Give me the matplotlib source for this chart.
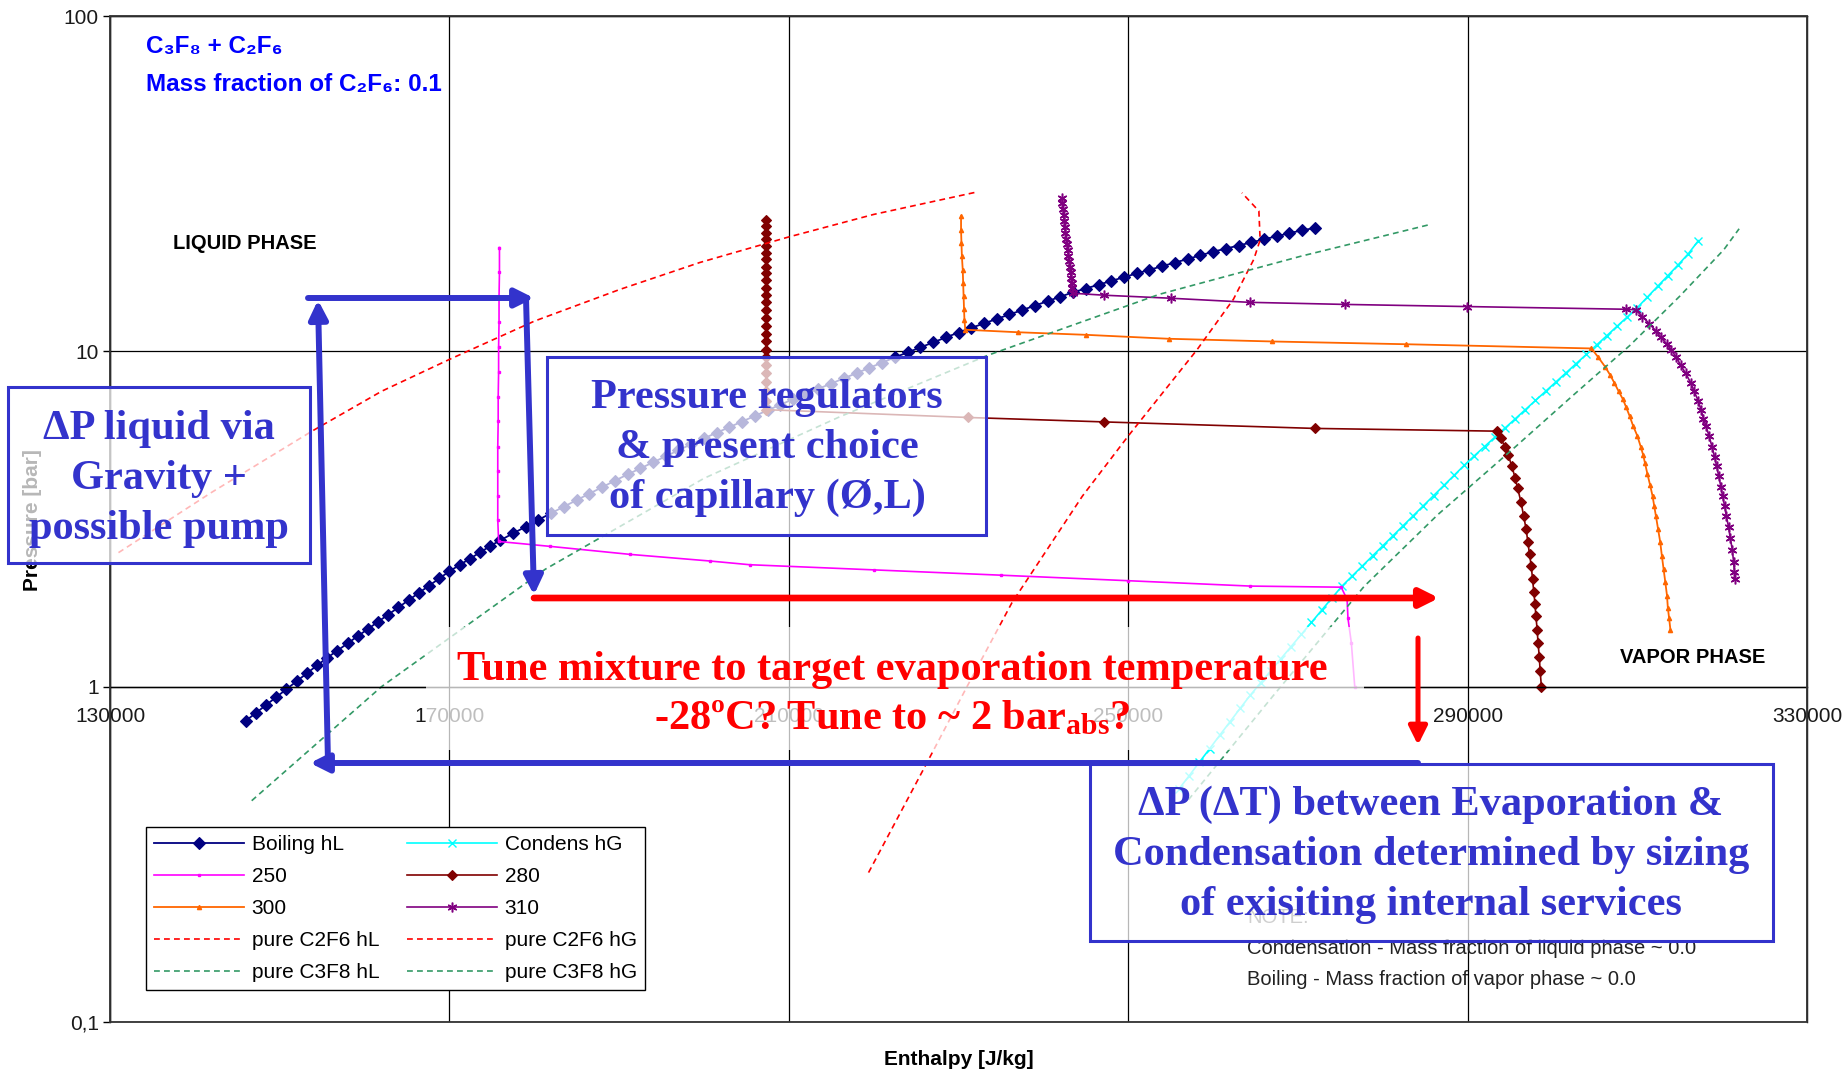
import numpy as np
import matplotlib
matplotlib.use('Agg')
import matplotlib.pyplot as plt
from matplotlib.patches import Rectangle, FancyArrowPatch
from matplotlib.ticker import NullLocator

plt.rcParams['font.family'] = ['Liberation Sans', 'DejaVu Sans']
plt.rcParams['mathtext.fontset'] = 'custom'
plt.rcParams['mathtext.rm'] = 'Liberation Serif:bold'
plt.rcParams['mathtext.it'] = 'Liberation Serif:italic:bold'
plt.rcParams['mathtext.bf'] = 'Liberation Serif:bold'

W, H = 1845, 1081

# enthalpy in kJ/kg, pressure in bar
boil_h = [146.0, 147.2, 148.4, 149.6, 150.8, 152.0, 153.2, 154.4, 155.6, 156.8,
          158.0, 159.2, 160.4, 161.6, 162.8, 164.0, 165.2, 166.4, 167.6, 168.8,
          170.0, 171.2, 172.4, 173.6, 174.8, 176.0, 177.5, 179.0, 180.5, 182.0,
          183.5, 185.0, 186.5, 188.0, 189.5, 191.0, 192.5, 194.0, 195.5, 197.0,
          198.5, 200.0, 201.5, 203.0, 204.5, 206.0, 207.5, 209.0, 210.5, 212.0,
          213.5, 215.0, 216.5, 218.0, 219.5, 221.0, 222.5, 224.0, 225.5, 227.0,
          228.5, 230.0, 231.5, 233.0, 234.5, 236.0, 237.5, 239.0, 240.5, 242.0,
          243.5, 245.0, 246.5, 248.0, 249.5, 251.0, 252.5, 254.0, 255.5, 257.0,
          258.5, 260.0, 261.5, 263.0, 264.5, 266.0, 267.5, 269.0, 270.5, 272.0]
boil_p = [0.791, 0.835, 0.882, 0.931, 0.983, 1.038, 1.096, 1.157, 1.220, 1.281,
          1.346, 1.415, 1.486, 1.562, 1.641, 1.724, 1.812, 1.904, 2.000, 2.102,
          2.208, 2.306, 2.407, 2.513, 2.625, 2.733, 2.864, 3.001, 3.145, 3.293,
          3.443, 3.600, 3.764, 3.934, 4.114, 4.294, 4.476, 4.666, 4.864, 5.070,
          5.284, 5.503, 5.718, 5.943, 6.176, 6.418, 6.671, 6.932, 7.198, 7.462,
          7.734, 8.017, 8.310, 8.614, 8.930, 9.256, 9.594, 9.927, 10.27, 10.63,
          11.00, 11.38, 11.75, 12.11, 12.49, 12.88, 13.27, 13.69, 14.11, 14.55,
          15.00, 15.39, 15.80, 16.21, 16.64, 17.07, 17.50, 17.94, 18.39, 18.85,
          19.33, 19.82, 20.24, 20.68, 21.12, 21.58, 22.04, 22.51, 22.96, 23.33]

cond_h = [256.0, 257.2, 258.4, 259.6, 260.8, 262.0, 263.2, 264.4, 265.6, 266.8,
          268.0, 269.2, 270.4, 271.6, 272.8, 274.0, 275.2, 276.4, 277.6, 278.8,
          280.0, 281.2, 282.4, 283.6, 284.8, 286.0, 287.2, 288.4, 289.6, 290.8,
          292.0, 293.2, 294.4, 295.6, 296.8, 298.0, 299.2, 300.4, 301.6, 302.8,
          304.0, 305.2, 306.4, 307.6, 308.8, 310.0, 311.2, 312.4, 313.6, 314.8,
          316.0, 317.2]
cond_p = [0.496, 0.543, 0.596, 0.653, 0.717, 0.786, 0.862, 0.944, 1.026, 1.115,
          1.212, 1.317, 1.431, 1.555, 1.690, 1.837, 1.995, 2.138, 2.291, 2.455,
          2.630, 2.818, 3.020, 3.236, 3.467, 3.715, 3.981, 4.266, 4.571, 4.882,
          5.201, 5.541, 5.903, 6.287, 6.699, 7.137, 7.603, 8.099, 8.629, 9.192,
          9.793, 10.44, 11.13, 11.87, 12.65, 13.50, 14.52, 15.63, 16.81, 18.09,
          19.53, 21.38]

t250_h = [175.9, 175.9, 175.85, 175.85, 175.8, 175.8, 175.75, 175.75, 175.7, 175.7,
          175.7, 175.7, 175.8, 181.9, 191.3, 200.7, 205.4, 220.0, 235.0, 250.0,
          264.4, 275.1, 275.8, 275.9, 276.3, 276.7]
t250_p = [20.4, 17.2, 14.5, 12.2, 10.3, 8.7, 7.3, 6.2, 5.2, 4.4,
          3.7, 3.15, 2.71, 2.62, 2.48, 2.37, 2.31, 2.23, 2.15, 2.07,
          1.995, 1.98, 1.82, 1.60, 1.35, 1.00]

t280_h = [207.35, 207.35, 207.35, 207.35, 207.3, 207.3, 207.3, 207.3, 207.3, 207.3,
          207.3, 207.3, 207.3, 207.3, 207.3, 207.3, 207.3, 207.3, 207.3, 207.3,
          207.3, 207.3, 207.3, 207.3, 207.3, 207.3,
          231.1, 247.1, 272.0,
          293.5, 293.9, 294.4, 294.8, 295.2, 295.6, 295.9, 296.3, 296.6, 296.9,
          297.1, 297.3, 297.5, 297.65, 297.8, 297.95, 298.05, 298.2, 298.3, 298.45,
          298.55, 298.7]
t280_p = [24.7, 23.6, 22.6, 21.6, 20.6, 19.7, 18.8, 17.9, 17.1, 16.3,
          15.5, 14.7, 14.0, 13.3, 12.6, 11.9, 11.3, 10.7, 10.1, 9.6,
          9.1, 8.6, 8.1, 7.6, 7.1, 6.7,
          6.35, 6.16, 5.89,
          5.78, 5.5, 5.2, 4.9, 4.55, 4.2, 3.9, 3.55, 3.23, 2.95,
          2.7, 2.48, 2.29, 2.1, 1.92, 1.76, 1.62, 1.48, 1.35, 1.23,
          1.11, 1.0]

t300_h = [230.3, 230.3, 230.35, 230.4, 230.5, 230.55, 230.6, 230.65, 230.7, 230.8,
          237.0, 245.05, 254.8, 267.0, 282.7, 304.6,
          305.4, 306.2, 306.8, 307.3, 307.8, 308.3, 308.7, 309.1, 309.5, 310.0,
          310.4, 310.7, 310.9, 311.2, 311.5, 311.8, 312.0, 312.2, 312.45, 312.7,
          312.9, 313.1, 313.3, 313.5, 313.6, 313.75, 313.9]
t300_p = [25.3, 23.0, 21.0, 19.2, 17.5, 16.0, 14.6, 13.4, 12.4, 11.6,
          11.4, 11.2, 10.9, 10.7, 10.5, 10.2,
          9.6, 9.0, 8.5, 8.05, 7.6, 7.2, 6.8, 6.41, 6.0, 5.6,
          5.2, 4.9, 4.65, 4.3, 4.0, 3.7, 3.45, 3.22, 2.95, 2.7,
          2.45, 2.24, 2.05, 1.87, 1.72, 1.6, 1.48]

t310_h = [242.2, 242.25, 242.3, 242.4, 242.45, 242.5, 242.6, 242.7, 242.75, 242.85,
          242.95, 243.0, 243.1, 243.2, 243.25, 243.35, 243.4, 243.5,
          247.2, 255.0, 264.3, 275.6, 289.9, 308.7,
          309.8, 310.6, 311.4, 312.2, 312.8, 313.5, 314.0, 314.6, 315.1, 315.7,
          316.3, 316.7, 317.2, 317.5, 317.8, 318.1, 318.45, 318.8, 319.1, 319.35,
          319.6, 319.85, 320.05, 320.3, 320.5, 320.75, 320.95, 321.2, 321.35, 321.45,
          321.55]
t310_p = [28.7, 27.6, 26.5, 25.5, 24.5, 23.5, 22.6, 21.7, 20.9, 20.1,
          19.3, 18.6, 17.9, 17.2, 16.6, 16.0, 15.4, 14.9,
          14.7, 14.4, 14.0, 13.8, 13.6, 13.35,
          13.3, 12.7, 12.1, 11.5, 11.0, 10.5, 10.1, 9.6, 9.1, 8.6,
          8.05, 7.6, 7.1, 6.7, 6.3, 5.98, 5.6, 5.2, 4.85, 4.55,
          4.24, 3.95, 3.7, 3.45, 3.22, 3.0, 2.78, 2.56, 2.35, 2.2,
          2.09]

c2f6_hl_h = [131.0, 142.0, 153.8, 162.0, 170.0, 180.0, 190.1, 199.5, 209.9, 220.0, 232.0]
c2f6_hl_p = [2.51, 3.80, 5.78, 7.60, 9.46, 12.3, 15.3, 18.4, 21.9, 25.6, 29.8]
c2f6_hg_h = [219.4, 226.0, 231.0, 236.3, 244.6, 250.0, 258.1, 262.4, 264.8, 265.55, 265.4, 263.4]
c2f6_hg_p = [0.279, 0.575, 1.00, 1.78, 3.70, 5.59, 10.1, 14.3, 18.8, 21.5, 26.2, 29.7]
c3f8_hl_h = [146.7, 162.0, 181.3, 200.0, 216.0, 233.4, 253.7, 270.3, 285.6]
c3f8_hl_p = [0.457, 1.00, 2.24, 4.18, 6.38, 9.72, 14.8, 19.2, 23.9]
c3f8_hg_h = [257.1, 267.05, 277.8, 286.5, 295.7, 302.4, 309.1, 315.0, 320.2, 322.0]
c3f8_hg_p = [0.46, 0.937, 1.99, 3.26, 5.21, 7.38, 10.4, 14.6, 20.1, 23.2]

x_ticks = [130000, 170000, 210000, 250000, 290000, 330000]
y_ticks = [0.1, 1, 10, 100]
y_labels = ['0,1', '1', '10', '100']

BLUE = '#3333CC'
RED = '#FF0000'


def kj(v):
    return np.array(v) * 1000.0


def fpx(x, y):
    return (x / W, 1 - y / H)


fig = plt.figure(figsize=(W / 100, H / 100), dpi=100)
ax = fig.add_axes([110 / W, 1 - 1022 / H, 1697 / W, 1006 / H])

l_boil, = ax.plot(kj(boil_h), boil_p, color='#000080', lw=1.3, marker='D', ms=5.8,
                  mew=0.8, label='Boiling hL')
l_cond, = ax.plot(kj(cond_h), cond_p, color='#00FFFF', lw=1.2, marker='x', ms=6,
                  mew=1.0, label='Condens hG')
l_250, = ax.plot(kj(t250_h), t250_p, color='#FF00FF', lw=1.2, marker='s', ms=2,
                 label='250')
l_280, = ax.plot(kj(t280_h), t280_p, color='#800000', lw=1.2, marker='D', ms=5.3,
                 mew=0.8, label='280')
l_300, = ax.plot(kj(t300_h), t300_p, color='#FF6600', lw=1.3, marker='^', ms=3,
                 label='300')
l_310, = ax.plot(kj(t310_h), t310_p, color='#800080', lw=1.2, marker=(6, 2, 0), ms=7,
                 mew=1.1, label='310')
dash = (0, (3.5, 2.5))
l_c2l, = ax.plot(kj(c2f6_hl_h), c2f6_hl_p, color=RED, lw=1.2, ls=dash, label='pure C2F6 hL')
l_c2g, = ax.plot(kj(c2f6_hg_h), c2f6_hg_p, color=RED, lw=1.2, ls=dash, label='pure C2F6 hG')
l_c3l, = ax.plot(kj(c3f8_hl_h), c3f8_hl_p, color='#339966', lw=1.2, ls=dash, label='pure C3F8 hL')
l_c3g, = ax.plot(kj(c3f8_hg_h), c3f8_hg_p, color='#339966', lw=1.2, ls=dash, label='pure C3F8 hG')

ax.set_xlim(130000, 330000)
ax.set_yscale('log')
ax.set_ylim(0.1, 100)
ax.set_xticks(x_ticks)
ax.set_xticklabels([str(t) for t in x_ticks])
ax.set_yticks(y_ticks)
ax.set_yticklabels(y_labels)
ax.yaxis.set_minor_locator(NullLocator())
ax.grid(True, color='black', lw=0.9)
ax.spines['bottom'].set_position(('data', 1))
for s in ax.spines.values():
    s.set_linewidth(1.0)
ax.add_patch(Rectangle((0, 0), 1, 1, transform=ax.transAxes, fill=False,
                       ec='#333333', lw=1.3, clip_on=False, zorder=3))
ax.tick_params(axis='x', length=0, pad=15, labelsize=15, labelcolor='#1a1a1a')
ax.tick_params(axis='y', length=5, width=1, pad=3, labelsize=15, labelcolor='#1a1a1a')

ax.set_xlabel('Enthalpy [J/kg]', fontsize=15, fontweight='bold')
ax.xaxis.set_label_coords(0.5003, (1022 - 1050) / 1006)
fig.text(*fpx(33, 520), 'Pressure [bar]', rotation=90, ha='center', va='center',
         fontsize=15, fontweight='bold')

handles = [l_boil, l_250, l_300, l_c2l, l_c3l, l_cond, l_280, l_310, l_c2g, l_c3g]
leg = ax.legend(handles, [h.get_label() for h in handles], ncol=2, loc='upper left',
                bbox_to_anchor=(0.0212, 0.1938), borderaxespad=0, fancybox=False,
                edgecolor='black', framealpha=1, fontsize=15, handlelength=4.3,
                handletextpad=0.37, columnspacing=1.35, labelspacing=0.62,
                borderpad=0.4)
leg.get_frame().set_linewidth(1.0)

# text inside the plot
fig.text(*fpx(146, 53), 'C₃F₈ + C₂F₆', color='#0000FF', fontsize=17.5,
         fontweight='bold', va='baseline')
fig.text(*fpx(146, 91), 'Mass fraction of C₂F₆: 0.1', color='#0000FF', fontsize=17.5,
         fontweight='bold', va='baseline')
fig.text(*fpx(173, 249), 'LIQUID PHASE', fontsize=14.5, fontweight='bold', va='baseline')
fig.text(*fpx(1620, 663), 'VAPOR PHASE', fontsize=14.5, fontweight='bold', va='baseline')
fig.text(*fpx(1247, 923), 'NOTE:', fontsize=14.5, color='#555555', va='baseline')
fig.text(*fpx(1247, 954), 'Condensation - Mass fraction of liquid phase ~ 0.0',
         fontsize=14.5, color='#222222', va='baseline')
fig.text(*fpx(1247, 985), 'Boiling - Mass fraction of vapor phase ~ 0.0',
         fontsize=14.5, color='#222222', va='baseline')


# overlay annotations (slide graphics)
def box(x0, y0, x1, y1, ec=BLUE, lw=2.2, z=5):
    fig.add_artist(Rectangle(fpx(x0, y1), (x1 - x0) / W, (y1 - y0) / H,
                             transform=fig.transFigure, facecolor=(1, 1, 1, 0.72),
                             edgecolor=ec, lw=lw, zorder=z))


def lines(cx, baselines, texts, color=BLUE):
    for b, t in zip(baselines, texts):
        fig.text(*fpx(cx, b), t, ha='center', va='baseline', color=color,
                 fontsize=30.5, fontweight='bold', family='Liberation Serif', zorder=8)


def arrow(x0, y0, x1, y1, color=BLUE, lw=4.3):
    fig.add_artist(FancyArrowPatch(fpx(x0, y0), fpx(x1, y1), transform=fig.transFigure,
                                   arrowstyle='-|>,head_length=11,head_width=5.5',
                                   mutation_scale=1, lw=lw, color=color,
                                   shrinkA=0, shrinkB=0, zorder=7))


box(426, 627, 1364, 750, ec='none', lw=0, z=4)
box(8, 387, 310, 563)
box(547, 357, 986, 535)
box(1090, 764, 1773, 941)

arrow(328, 763, 318, 300)
arrow(308, 298, 534, 298)
arrow(526, 298, 534, 595)
arrow(1418, 763, 310, 763)
arrow(534, 598, 1439, 598, color=RED, lw=4.8)
arrow(1418, 638, 1418, 745, color=RED, lw=3.6)

lines(159, [439, 489, 539], ['ΔP liquid via', 'Gravity +', 'possible pump'])
lines(767, [408, 458, 508], ['Pressure regulators', '& present choice',
                             'of capillary (Ø,L)'])
lines(1431, [815, 865, 915], ['ΔP (ΔT) between Evaporation &',
                              'Condensation determined by sizing',
                              'of exisiting internal services'])
lines(892, [680, 729], ['Tune mixture to target evaporation temperature',
                        r'-28ºC? Tune to ~ 2 bar$_{\mathrm{abs}}$?'], color=RED)

fig.savefig('out.png', dpi=100)
